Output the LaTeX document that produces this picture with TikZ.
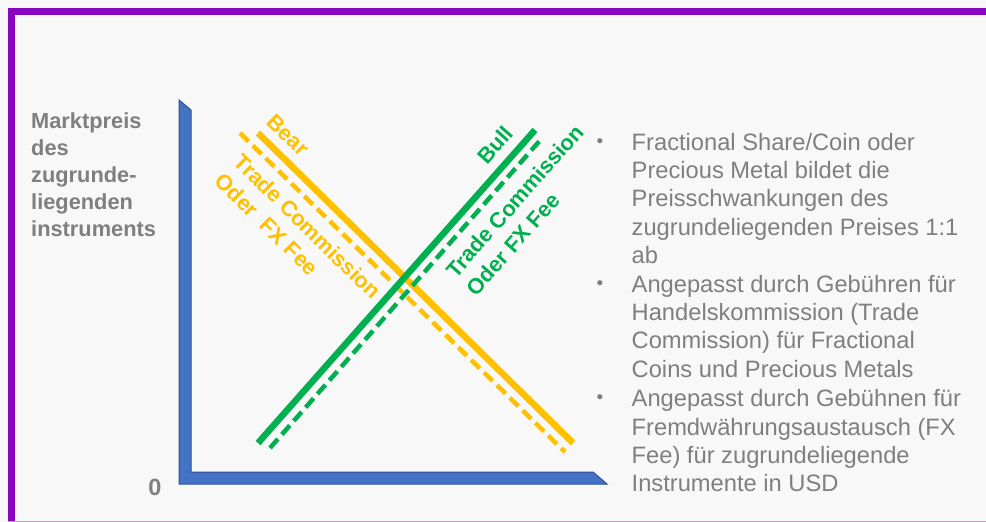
\documentclass[tikz,border=0pt]{standalone}
\usepackage{fontspec}
\setmainfont{Liberation Sans}
\usetikzlibrary{positioning}

\definecolor{framepurple}{RGB}{138,5,190}
\definecolor{paper}{RGB}{248,248,248}
\definecolor{textgray}{RGB}{127,127,127}
\definecolor{axisblue}{RGB}{68,114,196}
\definecolor{axisedge}{RGB}{47,82,143}
\definecolor{bearorange}{RGB}{255,192,0}
\definecolor{bullgreen}{RGB}{0,176,80}

\begin{document}
\begin{tikzpicture}[x=1pt,y=-1pt,
  lbl/.style={font=\bfseries\fontsize{21.8}{27}\selectfont,align=left,inner sep=0},
  txt/.style={text=textgray,font=\fontsize{23.7}{28.4}\selectfont,align=left,inner sep=0,anchor=north west},
  dot/.style={text=textgray,font=\fontsize{19}{19}\selectfont,inner sep=0},
  feeline/.style={line width=4.5pt,dash pattern=on 12pt off 6pt}]
  \useasboundingbox[fill=paper] (0,0) rectangle (986,522);
  % frame
  \fill[framepurple] (8,8) rectangle (986,15);
  \fill[framepurple] (8,8) rectangle (15,522);
  \draw[framepurple!45] (8,521.5) -- (986,521.5);

  % axes
  \filldraw[fill=axisblue,draw=axisedge,line width=1pt]
    (179,100) -- (191,110) -- (191,472) -- (593,472) -- (607,484) -- (179,484) -- cycle;
  \node[lbl,text=textgray,anchor=north west] (yaxis) at (31,112.3)
    {Marktpreis\\des\\zugrunde-\\liegenden\\instruments};
  \node[text=textgray,font=\bfseries\fontsize{23.5}{24}\selectfont,inner sep=0,anchor=base] (zero) at (155,495) {0};

  % bear
  \coordinate (bearA) at (258,133);
  \coordinate (bearB) at (573,443);
  \coordinate (bearfeeA) at (240,133);
  \coordinate (bearfeeB) at (565,452);
  \draw[feeline,bearorange] (bearfeeA) -- (bearfeeB);
  \draw[line width=6.5pt,bearorange] (bearA) -- (bearB);

  % bull
  \coordinate (bullA) at (258,443);
  \coordinate (bullB) at (535,130);
  \coordinate (bullfeeA) at (270,448);
  \coordinate (bullfeeB) at (543,137);
  \draw[feeline,bullgreen] (bullfeeA) -- (bullfeeB);
  \draw[line width=6.5pt,bullgreen] (bullA) -- (bullB);

  \node[lbl,text=bearorange,rotate=-44.5] (bear) at (288,135) {Bear};
  \node[lbl,text=bearorange,rotate=-44.5] (bearfee) at (298,236) {Trade Commission\\Oder\ \ FX Fee};
  \node[lbl,text=bullgreen,rotate=48.5] (bull) at (495,145) {Bull};
  \node[lbl,text=bullgreen,rotate=48.5] (bullfee) at (525,210) {Trade Commission\\Oder FX Fee};

  % bullet list
  \node[dot] (b1) at (600,143) {•};
  \node[dot] (b2) at (600,285) {•};
  \node[dot] (b3) at (600,399) {•};
  \node[txt] (t1) at (631.5,132.7)
    {Fractional Share/Coin oder\\Precious Metal bildet die\\Preisschwankungen des\\zugrundeliegenden Preises 1:1\\ab};
  \node[txt] (t2) at (631.5,274.7)
    {Angepasst durch Gebühren für\\Handelskommission (Trade\\Commission) für Fractional\\Coins und Precious Metals};
  \node[txt] (t3) at (631.5,389.4)
    {Angepasst durch Gebühnen für\\Fremdwährungsaustausch (FX\\Fee) für zugrundeliegende\\Instrumente in USD};
\end{tikzpicture}
\end{document}
